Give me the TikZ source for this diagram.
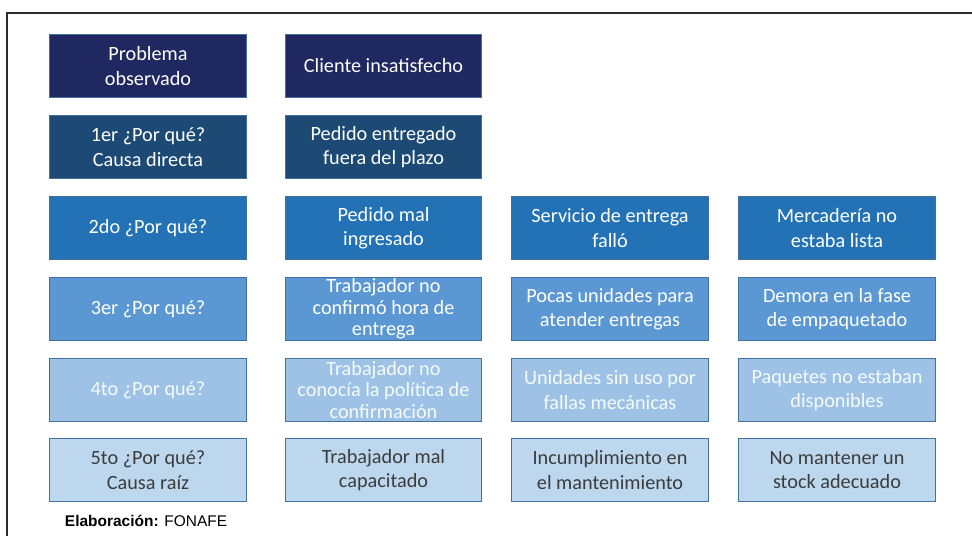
\documentclass[tikz,border=0pt]{standalone}
\usepackage{fontspec}
\setmainfont{Carlito}
\newfontfamily\notefont{Liberation Sans}
\usetikzlibrary{positioning}
\definecolor{wyframe}{HTML}{2B2B2B}
\definecolor{wyedge}{HTML}{41719C}
\definecolor{wyrowA}{HTML}{1F2860}
\definecolor{wyrowB}{HTML}{1C4A74}
\definecolor{wyrowC}{HTML}{2372B6}
\definecolor{wyrowD}{HTML}{5B98D3}
\definecolor{wyrowE}{HTML}{9DC2E6}
\definecolor{wyrowF}{HTML}{BDD7EE}
\definecolor{wyink}{HTML}{3C3C3C}
\tikzset{
  wy box/.style={draw=wyedge, line width=0.7pt, inner sep=0pt,
    minimum width=4.9cm, minimum height=1.55cm, align=center,
    font=\fontsize{14.4}{17.3}\selectfont, text=white},
  wy tight/.style={font=\fontsize{14.4}{15.3}\selectfont},
  wy frame/.style={draw=wyframe, line width=1.5pt},
  wy note/.style={font=\notefont\fontsize{11}{13}\selectfont, text=black, anchor=west}
}
\begin{document}
\begin{tikzpicture}[x=0.025cm, y=-0.025cm]
  \useasboundingbox (0,0) rectangle (972,536);
  \draw[wy frame] (7,536) -- (7,13) -- (972,13);
  % problema observado
  \node[wy box, fill=wyrowA] (probL) at (148,66) {Problema\\observado};
  \node[wy box, fill=wyrowA] (probR) at (383.5,66) {Cliente insatisfecho};
  % 1er por que
  \node[wy box, fill=wyrowB] (whyAL) at (148,147) {1er ¿Por qué?\\Causa directa};
  \node[wy box, fill=wyrowB] (whyAR) at (383.5,147) {Pedido entregado\\fuera del plazo};
  % 2do por que
  \node[wy box, fill=wyrowC] (whyBL) at (148,228) {2do ¿Por qué?};
  \node[wy box, fill=wyrowC] (whyB1) at (383.5,228) {Pedido mal\\ingresado};
  \node[wy box, fill=wyrowC] (whyB2) at (610,228) {Servicio de entrega\\falló};
  \node[wy box, fill=wyrowC] (whyB3) at (837,228) {Mercadería no\\estaba lista};
  % 3er por que
  \node[wy box, fill=wyrowD] (whyCL) at (148,309) {3er ¿Por qué?};
  \node[wy box, wy tight, fill=wyrowD] (whyC1) at (383.5,309) {Trabajador no\\confirmó hora de\\entrega};
  \node[wy box, fill=wyrowD] (whyC2) at (610,309) {Pocas unidades para\\atender entregas};
  \node[wy box, fill=wyrowD] (whyC3) at (837,309) {Demora en la fase\\de empaquetado};
  % 4to por que
  \node[wy box, fill=wyrowE, text=white!92!wyrowE] (whyDL) at (148,390) {4to ¿Por qué?};
  \node[wy box, wy tight, fill=wyrowE, text=white!92!wyrowE] (whyD1) at (383.5,390) {Trabajador no\\conocía la política de\\confirmación};
  \node[wy box, fill=wyrowE, text=white!92!wyrowE] (whyD2) at (610,390) {Unidades sin uso por\\fallas mecánicas};
  \node[wy box, fill=wyrowE, text=white!92!wyrowE] (whyD3) at (837,390) {Paquetes no estaban\\disponibles};
  % 5to por que
  \node[wy box, fill=wyrowF, text=wyink] (whyEL) at (148,470) {5to ¿Por qué?\\Causa raíz};
  \node[wy box, fill=wyrowF, text=wyink] (whyE1) at (383.5,470) {Trabajador mal\\capacitado};
  \node[wy box, fill=wyrowF, text=wyink] (whyE2) at (610,470) {Incumplimiento en\\el mantenimiento};
  \node[wy box, fill=wyrowF, text=wyink] (whyE3) at (837,470) {No mantener un\\stock adecuado};
  \node[wy note] (source) at (60,521) {\textbf{Elaboración:} FONAFE};
\end{tikzpicture}
\end{document}
